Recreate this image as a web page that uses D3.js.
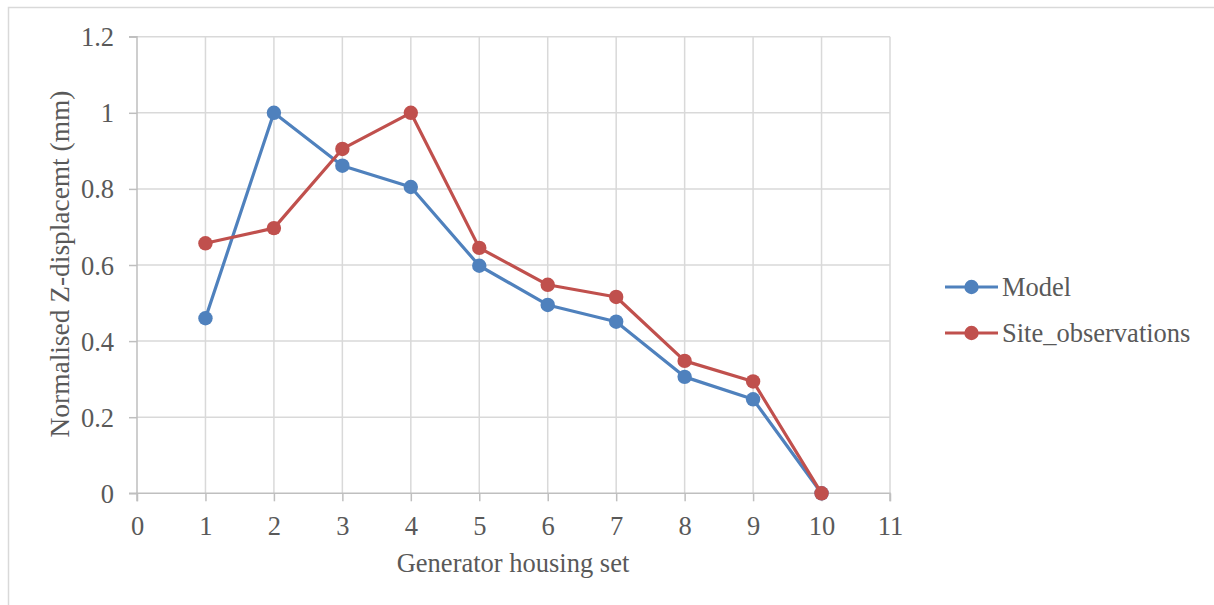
<!DOCTYPE html>
<html><head><meta charset="utf-8">
<script src="https://cdn.jsdelivr.net/npm/d3@7"></script>
<style>body{margin:0;background:#fff}svg{display:block}text{font-family:"Liberation Serif","Times New Roman",serif;fill:#595959}</style>
</head><body>
<script>
const xValues = [1,2,3,4,5,6,7,8,9,10];
const modelValues = [0.46,1.0,0.861,0.805,0.598,0.495,0.451,0.306,0.247,0];
const siteValues = [0.657,0.697,0.905,1.0,0.645,0.548,0.516,0.348,0.294,0];
const seriesNames = ["Model","Site_observations"];
const seriesColors = ["#4f81bd","#c0504d"];
const xTicks = d3.range(0,12);
const yTicks = [0,0.2,0.4,0.6,0.8,1,1.2];

const W=1214,H=605;
const svg=d3.select("body").append("svg").attr("width",W).attr("height",H);
svg.append("rect").attr("x",8.5).attr("y",7.5).attr("width",W).attr("height",H).attr("fill","none").attr("stroke","#d9d9d9").attr("stroke-width",1.5);

const x=d3.scaleLinear().domain([0,11]).range([137,890]);
const y=d3.scaleLinear().domain([0,1.2]).range([493.3,36.7]);

const g=svg.append("g");
g.selectAll(".hg").data(yTicks.filter(d=>d>0)).enter().append("line")
 .attr("x1",x(0)).attr("x2",x(11)).attr("y1",d=>y(d)).attr("y2",d=>y(d))
 .attr("stroke","#d9d9d9").attr("stroke-width",1.5);
g.selectAll(".vg").data(xTicks.filter(d=>d>0)).enter().append("line")
 .attr("x1",d=>x(d)).attr("x2",d=>x(d)).attr("y1",y(0)).attr("y2",y(1.2))
 .attr("stroke","#d9d9d9").attr("stroke-width",1.5);

const xAxis=d3.axisBottom(x).tickValues(xTicks).tickSize(8).tickPadding(10).tickFormat(d3.format("d"));
const xa=svg.append("g").attr("transform",`translate(0,${y(0)})`).call(xAxis);
const yAxis=d3.axisLeft(y).tickValues(yTicks).tickSize(8).tickPadding(15).tickFormat(d=>d3.format("")(+d.toFixed(1)));
const ya=svg.append("g").attr("transform",`translate(${x(0)},0)`).call(yAxis);
[xa,ya].forEach(a=>{
  a.select(".domain").attr("stroke","#bfbfbf").attr("stroke-width",1.5);
  a.selectAll(".tick line").attr("stroke","#bfbfbf").attr("stroke-width",1.5);
  a.selectAll("text").attr("font-size",26.5).attr("fill","#595959").attr("font-family","Liberation Serif");
});
xa.select(".domain").attr("d",`M${x(0)},8V0H${x(11)}V8`);
ya.select(".domain").attr("d",`M-8,${y(1.2)}H0V${y(0)}H-8`);
ya.selectAll(".tick text").attr("dy","0.34em");
xa.selectAll(".tick text").attr("dy","0.9em");

const series=[modelValues,siteValues];
const line=d3.line().x((d,i)=>x(xValues[i])).y(d=>y(d));
series.forEach((vals,si)=>{
  svg.append("path").datum(vals).attr("d",line).attr("fill","none")
   .attr("stroke",seriesColors[si]).attr("stroke-width",3.2).attr("stroke-linejoin","round");
  svg.selectAll(".m"+si).data(vals).enter().append("circle")
   .attr("cx",(d,i)=>x(xValues[i])).attr("cy",d=>y(d)).attr("r",7.2).attr("fill",seriesColors[si]);
});

svg.append("text").attr("x",513).attr("y",572).attr("text-anchor","middle").attr("font-size",26.5).text("Generator housing set");
svg.append("text").attr("transform","translate(69,264) rotate(-90)").attr("text-anchor","middle").attr("font-size",27.4).text("Normalised Z-displacemt (mm)");

const lg=svg.append("g");
seriesNames.forEach((n,i)=>{
  const ly=287+i*46;
  lg.append("line").attr("x1",945).attr("x2",998).attr("y1",ly).attr("y2",ly).attr("stroke",seriesColors[i]).attr("stroke-width",3.2);
  lg.append("circle").attr("cx",971.5).attr("cy",ly).attr("r",7.2).attr("fill",seriesColors[i]);
  lg.append("text").attr("x",1002).attr("y",ly).attr("dy","0.34em").attr("font-size",26.5).text(n);
});
</script>
</body></html>
